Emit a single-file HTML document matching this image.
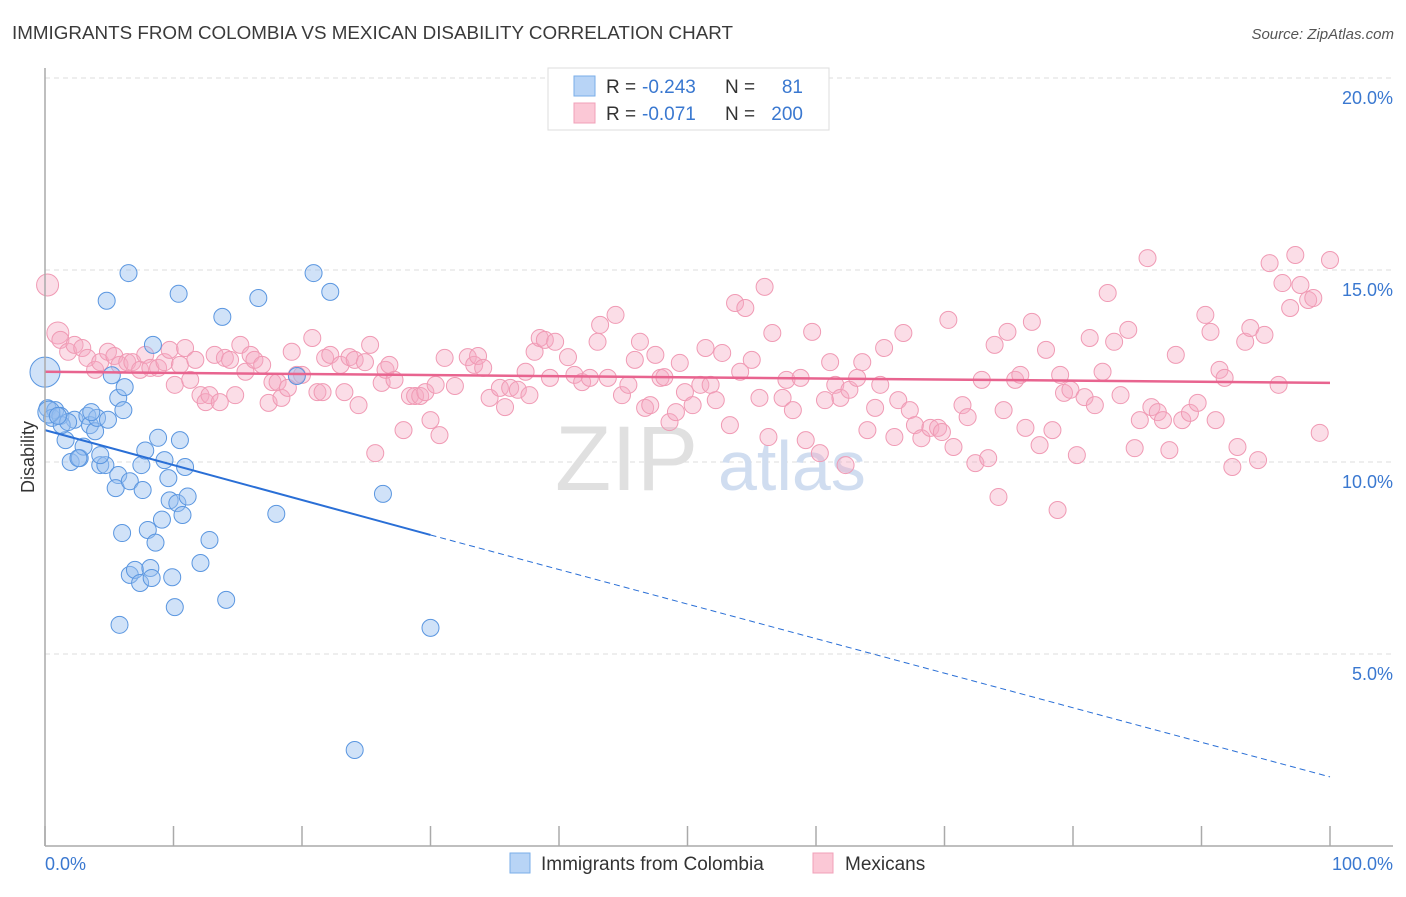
<!DOCTYPE html>
<html><head><meta charset="utf-8"><style>
body{margin:0;background:#fff;font-family:"Liberation Sans",sans-serif;}
svg text{font-family:"Liberation Sans",sans-serif;}
</style></head><body>
<svg id="chart" width="1406" height="892" xmlns="http://www.w3.org/2000/svg">
<text x="12" y="39" font-size="18" fill="#3a3a3a" textLength="721" lengthAdjust="spacingAndGlyphs">IMMIGRANTS FROM COLOMBIA VS MEXICAN DISABILITY CORRELATION CHART</text>
<text x="1394" y="39" font-size="15" fill="#555" font-style="italic" text-anchor="end">Source: ZipAtlas.com</text>
<g id="grid"></g>
<g><text x="555" y="490" font-size="92" fill="#e0e0e0" font-family="Liberation Serif, serif">ZIP</text><text x="718" y="490" font-size="70" fill="#d0ddf0">atlas</text></g>
<g id="pts"></g>
<g id="trend"></g>
<line x1="45" y1="68" x2="45" y2="846" stroke="#aaa" stroke-width="1.5"/>
<line x1="45" y1="846" x2="1393" y2="846" stroke="#aaa" stroke-width="1.5"/>
<g id="xticks"></g>
<text transform="translate(34,457) rotate(-90)" font-size="18" fill="#333" text-anchor="middle">Disability</text>
<text x="45" y="870" font-size="18" fill="#3a78d0">0.0%</text>
<text x="1393" y="870" font-size="18" fill="#3a78d0" text-anchor="end">100.0%</text>
<g>
<rect x="548" y="68" width="281" height="62" fill="#fff" stroke="#ddd"/>
<rect x="574" y="76" width="21" height="20" fill="#b8d4f6" stroke="#7aaee8"/>
<rect x="574" y="103" width="21" height="20" fill="#fbc8d6" stroke="#f0a0b8"/>
<text x="606" y="93" font-size="19" fill="#333">R = </text><text x="642" y="93" font-size="19" fill="#3a78d0">-0.243</text>
<text x="725" y="93" font-size="19" fill="#333">N = </text><text x="803" y="93" font-size="19" fill="#3a78d0" text-anchor="end">81</text>
<text x="606" y="120" font-size="19" fill="#333">R = </text><text x="642" y="120" font-size="19" fill="#3a78d0">-0.071</text>
<text x="725" y="120" font-size="19" fill="#333">N = </text><text x="803" y="120" font-size="19" fill="#3a78d0" text-anchor="end">200</text>
</g>
<g><rect x="510" y="853" width="20" height="20" fill="#b8d4f6" stroke="#7aaee8"/><text x="541" y="870" font-size="19" fill="#333">Immigrants from Colombia</text></g>
<g><rect x="813" y="853" width="20" height="20" fill="#fbc8d6" stroke="#f0a0b8"/><text x="845" y="870" font-size="19" fill="#333">Mexicans</text></g>
</svg>
<script>
const yTicks=[5,10,15,20];
const yTickLabels=["5.0%","10.0%","15.0%","20.0%"];
const xTicks=[0,10,20,30,40,50,60,70,80,90,100];
const blueX=[0,0.2,0.8,0.55,1.2,1.6,2,2.3,2.7,3,3.3,3.5,3.9,4.05,4.3,4.7,4.9,4.8,5.2,5.7,5.7,6.2,6.1,5.5,6,5.8,6.5,6.6,6.6,7,7.4,7.5,7.8,7.6,8,8.2,8.3,8.4,8.6,8.8,9.1,9.3,9.6,9.7,9.9,10.1,10.3,10.4,10.5,10.7,10.9,11.1,12.1,12.8,13.8,14.1,16.6,18,19.6,20.9,22.2,24.1,26.3,30,1.3,1.8,3.6,4.3,0.3,1.0,2.6];
const blueY=[12.34,11.4,11.35,11.15,11.2,10.57,10,11.1,10.1,10.4,11.2,10.96,10.8,11.15,9.92,9.92,11.1,14.2,12.26,11.67,9.66,11.95,11.35,9.32,8.15,5.76,14.92,9.5,7.06,7.19,6.85,9.92,10.3,9.27,8.23,7.24,6.98,13.05,7.9,10.63,8.5,10.05,9.58,9.0,7.0,6.22,8.93,14.38,10.57,8.62,9.87,9.1,7.37,7.97,13.78,6.41,14.27,8.65,12.24,14.92,14.43,2.5,9.17,5.68,10.96,11.04,11.3,10.18,11.3,11.2,10.1];
const pinkX=[0.2,1.0,1.2,1.8,2.3,2.9,3.3,3.9,4.3,4.9,5.4,5.8,6.4,6.8,7.4,7.8,8.2,8.8,9.3,9.7,10.1,10.5,10.9,11.3,11.7,12.1,12.5,12.8,13.2,13.6,14.0,14.4,14.8,15.2,15.6,16.0,16.3,16.9,17.4,17.7,18.1,18.4,18.9,19.2,19.6,20.0,20.8,21.2,21.6,21.8,22.2,23.0,23.3,23.7,24.1,24.4,24.9,25.3,25.7,26.2,26.5,26.8,27.2,27.9,28.4,28.8,29.2,29.6,30.0,30.4,30.7,31.1,31.9,32.9,33.4,33.7,34.1,34.6,35.4,35.8,36.2,36.8,37.4,37.7,38.1,38.5,38.9,39.3,39.7,40.7,41.2,41.8,42.4,43.0,43.2,43.8,44.4,44.9,45.4,45.9,46.3,46.7,47.1,47.5,47.9,48.2,48.6,49.1,49.4,49.8,50.4,51.0,51.4,51.8,52.2,52.7,53.3,53.7,54.1,54.5,55.0,55.6,56.0,56.3,56.6,57.4,57.7,58.2,58.8,59.2,59.7,60.3,60.7,61.1,61.5,61.9,62.3,62.6,63.2,63.6,64.0,64.6,65.0,65.3,66.1,66.4,66.8,67.3,67.7,68.2,68.9,69.5,69.8,70.3,70.7,71.4,71.8,72.4,72.9,73.4,73.9,74.2,74.6,74.9,75.5,75.9,76.3,76.8,77.4,77.9,78.4,78.8,79.0,79.3,79.8,80.3,80.9,81.3,81.7,82.3,82.7,83.2,83.7,84.3,84.8,85.2,85.8,86.1,86.6,87.0,87.5,88.0,88.5,89.1,89.7,90.3,90.7,91.1,91.4,91.8,92.4,92.8,93.4,93.8,94.4,94.9,95.3,96.0,96.3,96.9,97.3,97.7,98.3,98.7,99.2,100];
const pinkY=[14.61,13.36,13.18,12.87,13.05,12.97,12.71,12.40,12.60,12.87,12.76,12.53,12.60,12.60,12.40,12.79,12.45,12.45,12.60,12.92,12.01,12.53,12.97,12.14,12.66,11.74,11.56,11.74,12.79,11.56,12.71,12.66,11.74,13.05,12.35,12.79,12.66,12.53,11.54,12.08,12.08,11.67,11.93,12.87,12.27,12.27,13.23,11.82,11.82,12.71,12.79,12.53,11.82,12.73,12.66,11.48,12.60,13.05,10.23,12.06,12.40,12.53,12.14,10.83,11.72,11.72,11.72,11.82,11.09,12.01,10.70,12.71,11.98,12.73,12.53,12.76,12.45,11.67,11.93,11.43,11.93,11.88,12.35,11.74,12.87,13.23,13.18,12.19,13.13,12.73,12.27,12.08,12.19,13.13,13.57,12.19,13.83,11.74,12.01,12.66,13.13,11.41,11.48,12.79,12.19,12.21,11.04,11.30,12.58,11.82,11.48,12.01,12.97,12.01,11.61,12.84,10.96,14.14,12.35,14.01,12.66,11.67,14.56,10.65,13.36,11.67,12.14,11.35,12.19,10.57,13.39,10.23,11.61,12.60,12.01,11.67,9.92,11.88,12.19,12.60,10.83,11.41,12.01,12.97,10.65,11.61,13.36,11.35,10.96,10.62,10.89,10.89,10.78,13.70,10.39,11.48,11.17,9.97,12.14,10.10,13.05,9.09,11.35,13.39,12.14,12.27,10.89,13.65,10.44,12.92,10.83,8.75,12.27,11.80,11.88,10.18,11.69,13.23,11.48,12.35,14.40,13.13,11.74,13.44,10.36,11.09,15.31,11.43,11.30,11.09,10.31,12.79,11.09,11.28,11.54,13.83,13.39,11.09,12.40,12.19,9.87,10.39,13.13,13.49,10.05,13.31,15.18,12.01,14.66,14.01,15.39,14.61,14.22,14.27,10.76,15.26];
const blueTrendX=[0,30,100];
const blueTrendY=[10.83,8.1,1.8];
const pinkTrendX=[0,100];
const pinkTrendY=[12.35,12.06];

const NS="http://www.w3.org/2000/svg";
const X=v=>45+v*12.85;
const Y=v=>78+(20-v)*38.4;
function mk(tag,attrs,parent){const e=document.createElementNS(NS,tag);for(const k in attrs)e.setAttribute(k,attrs[k]);parent.appendChild(e);return e;}
const grid=document.getElementById('grid');
yTicks.forEach((t,i)=>{
  const l=mk('line',{x1:45,x2:1393,y1:Y(t),y2:Y(t),stroke:'#ddd','stroke-dasharray':'5,4'},grid);
  
  
  const tx=mk('text',{x:1393,y:Y(t)+26,'font-size':18,fill:'#3a78d0','text-anchor':'end'},grid);
  tx.textContent=yTickLabels[i];
  
  
});
const xt=document.getElementById('xticks');
xTicks.forEach(t=>{
  const l=mk('line',{x1:X(t),x2:X(t),y1:826,y2:846,stroke:'#aaa','stroke-width':1.5},xt);
  
  
});
const pts=document.getElementById('pts');
pinkX.forEach((x,i)=>{
  const r=i<2?11:8.5;
  const c=mk('circle',{cx:X(x),cy:Y(pinkY[i]),r:r,fill:'rgba(246,170,195,0.4)',stroke:'#f09ab4','stroke-width':1},pts);
  
  
});
blueX.forEach((x,i)=>{
  const r=i===0?15:(i===68?11:8.5);
  const c=mk('circle',{cx:X(x),cy:Y(blueY[i]),r:r,fill:'rgba(150,190,240,0.45)',stroke:'#5a96e0','stroke-width':1},pts);
  
  
});
const tr=document.getElementById('trend');
const b1=mk('line',{x1:X(blueTrendX[0]),y1:Y(blueTrendY[0]),x2:X(blueTrendX[1]),y2:Y(blueTrendY[1]),stroke:'#2a6fd6','stroke-width':2},tr);


const b2=mk('line',{x1:X(blueTrendX[1]),y1:Y(blueTrendY[1]),x2:X(blueTrendX[2]),y2:Y(blueTrendY[2]),stroke:'#2a6fd6','stroke-width':1,'stroke-dasharray':'6,4'},tr);


const p1=mk('line',{x1:X(pinkTrendX[0]),y1:Y(pinkTrendY[0]),x2:X(pinkTrendX[1]),y2:Y(pinkTrendY[1]),stroke:'#e8648f','stroke-width':2.5},tr);


</script>
</body></html>
